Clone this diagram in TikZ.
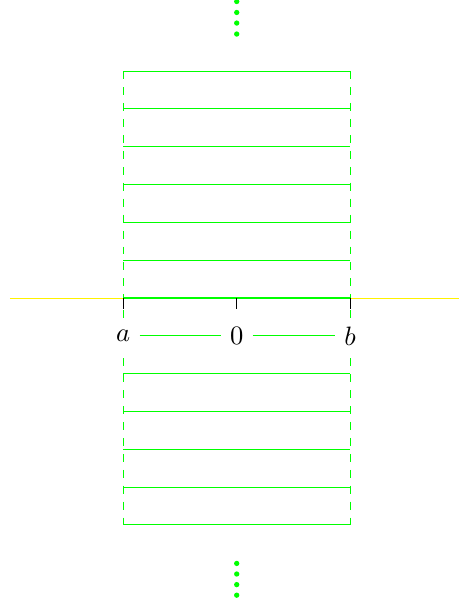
\documentclass[tikz,border=0pt]{standalone}
\begin{document}
\begin{tikzpicture}[x=0.5cm,y=0.5cm,
  rung/.style={green},
  rail/.style={green,dashed},
  tickmark/.style={black},
  axisline/.style={yellow,line width=0.3pt},
  lbl/.style={fill=white},
  dotmark/.style={fill=green}]
\useasboundingbox (-6.26,-8.04) rectangle (5.86,7.88);
% axis
\coordinate (L) at (-6,0);
\coordinate (R) at (6,0);
\draw[axisline] (L) -- (R);
% rails
\coordinate (at) at (-3,6);
\coordinate (ab) at (-3,-6);
\coordinate (bt) at (3,6);
\coordinate (bb) at (3,-6);
\draw[rail] (at) -- (ab);
\draw[rail] (bt) -- (bb);
% rungs
\foreach \y in {6,5,4,3,2,1,0,-2,-3,-4,-5,-6}{
  \coordinate (l\y) at (-3,\y);
  \coordinate (r\y) at (3,\y);
  \draw[rung] (l\y) -- (r\y);
}
% ticks
\foreach \x/\n in {-3/ta,0/tz,3/tb}{
  \coordinate (\n1) at (\x,0);
  \coordinate (\n2) at (\x,-0.3);
  \draw[tickmark] (\n1) -- (\n2);
}
% labels
\node[lbl] (a) at (-3,-1) {$a$};
\node[lbl] (z) at (0,-1) {$0$};
\node[lbl] (b) at (3,-1) {$b$};
\draw[rung] (a) -- (z);
\draw[rung] (z) -- (b);
% dots
\foreach \y in {6.98,7.27,7.55,7.84}{
  \fill[dotmark] (0,\y) circle (1pt);
}
\foreach \y in {-7.02,-7.30,-7.58,-7.86}{
  \fill[dotmark] (0,\y) circle (1pt);
}
\end{tikzpicture}
\end{document}
